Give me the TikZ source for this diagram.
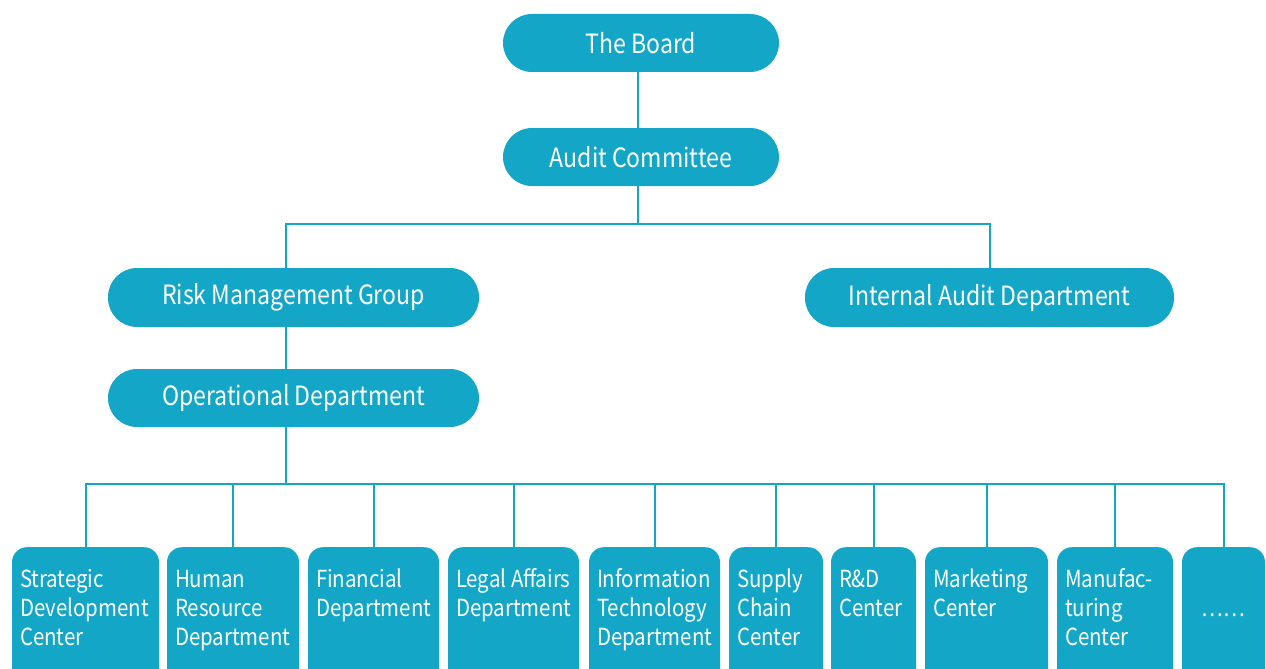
\documentclass[tikz,border=0pt]{standalone}
\usepackage{fontspec}
\setmainfont{Noto Sans CJK SC}[FakeStretch=0.87]
\definecolor{teal1}{RGB}{20,166,199}
\newcommand\subtext[2]{\parbox[t][140pt][t]{#1}{\raggedright\rule{0pt}{40pt}#2}}
\begin{document}
\begin{tikzpicture}[x=1pt,y=-1pt,
  pill/.style={fill=teal1, rounded corners=29pt, inner sep=0pt, text=white, font=\fontsize{26.5}{32}\selectfont},
  subbox/.style={fill=teal1, rounded corners=15pt, inner xsep=8pt, inner ysep=0pt, anchor=north, text=white, font=\fontsize{23.5}{29.3}\selectfont},
  conn/.style={draw=teal1, line width=2pt}]
\useasboundingbox (0,0) rectangle (1266,669);
\clip (0,0) rectangle (1266,669);
\node[pill, minimum width=276pt, minimum height=58pt] (board) at (641,43) {The Board};
\node[pill, minimum width=276pt, minimum height=58pt] (audit) at (641,157) {Audit Committee};
\node[pill, minimum width=371pt, minimum height=59pt] (risk) at (293.5,297.5) {Risk Management Group};
\node[pill, minimum width=369pt, minimum height=59pt] (internal) at (989.5,297.5) {Internal Audit Department};
\node[pill, minimum width=371pt, minimum height=58pt] (oper) at (293.5,398) {Operational Department};

\node[subbox] (s1) at (85.5,547) {\subtext{131pt}{Strategic\\Development\\Center}};
\node[subbox] (s2) at (233,547) {\subtext{116pt}{Human\\Resource\\Department}};
\node[subbox] (s3) at (373.5,547) {\subtext{115pt}{Financial\\Department}};
\node[subbox] (s4) at (513.5,547) {\subtext{115pt}{Legal~Affairs\\Department}};
\node[subbox] (s5) at (654.5,547) {\subtext{115pt}{Information\\Technology\\Department}};
\node[subbox] (s6) at (776,547) {\subtext{78pt}{Supply\\Chain\\Center}};
\node[subbox] (s7) at (873.5,547) {\subtext{69pt}{R\&D\\Center}};
\node[subbox] (s8) at (986.5,547) {\subtext{107pt}{Marketing\\Center}};
\node[subbox] (s9) at (1115,547) {\subtext{100pt}{\mbox{Manufac-}\\turing\\Center}};
\node[subbox] (s10) at (1223.5,547) {\subtext{67pt}{\\\makebox[67pt]{……}}};

\coordinate (bus1) at (638,224);
\coordinate (bus2) at (286,484);
\draw[conn] ([xshift=-3pt]board.south) -- ([xshift=-3pt]audit.north);
\draw[conn] ([xshift=-3pt]audit.south) -- (bus1);
\draw[conn] ([xshift=-7.5pt]risk.north) |- (bus1) -| (internal.north);
\draw[conn] ([xshift=-7.5pt]risk.south) -- ([xshift=-7.5pt]oper.north);
\draw[conn] ([xshift=-7.5pt]oper.south) -- (bus2);
\draw[conn] (s1.north) |- (bus2) -| (s10.north);
\foreach \n in {s2,s3,s4,s5,s6,s7,s8,s9} \draw[conn] (\n.north) -- (\n.north |- bus2);
\end{tikzpicture}
\end{document}
